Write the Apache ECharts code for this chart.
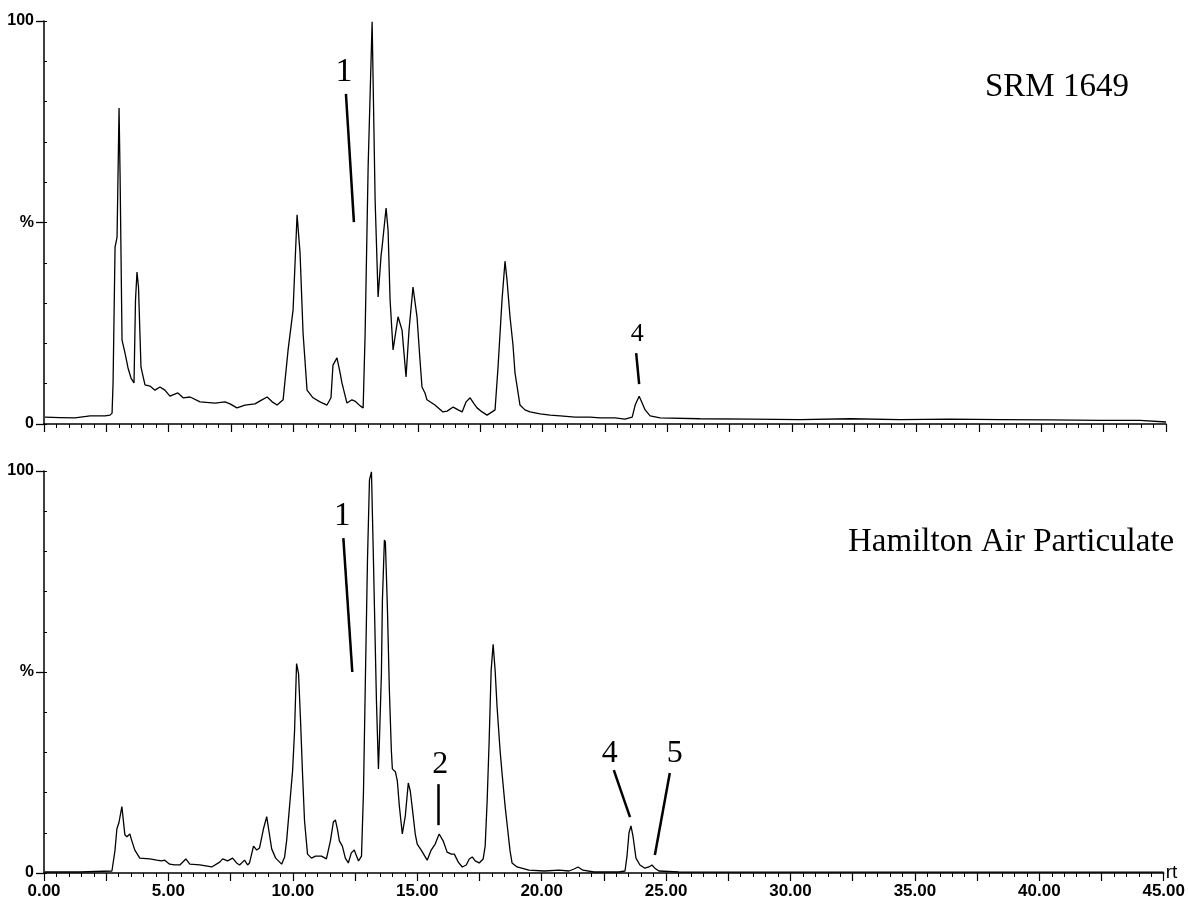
<!DOCTYPE html>
<html>
<head>
<meta charset="utf-8">
<script src="https://cdn.jsdelivr.net/npm/echarts@6/dist/echarts.min.js"></script>
<style>
  html, body { margin: 0; padding: 0; background: #fff; }
  #chart { width: 1188px; height: 900px; }
</style>
</head>
<body>
<div id="chart"></div>
<script>
// retention time (min) and relative abundance (%)
var srmTime = [0.04, 0.64, 1.24, 1.85, 2.45, 2.65, 2.73, 2.77, 2.85, 2.93, 2.97, 3.01, 3.05, 3.13, 3.25, 3.37, 3.49, 3.61,
  3.67, 3.73, 3.79, 3.89, 4.05, 4.25, 4.45, 4.65, 4.85, 5.05, 5.37, 5.58, 5.86, 6.26, 6.86, 7.26, 7.46, 7.74, 8.06, 8.46,
  8.74, 8.95, 9.15, 9.35, 9.59, 9.79, 9.99, 10.15, 10.27, 10.39, 10.55, 10.79, 11.07, 11.35, 11.51, 11.59, 11.75, 11.87,
  11.95, 12.15, 12.35, 12.47, 12.68, 12.8, 12.88, 13.0, 13.16, 13.28, 13.4, 13.52, 13.56, 13.72, 13.8, 13.88, 14.0, 14.2,
  14.36, 14.52, 14.64, 14.8, 14.96, 15.08, 15.16, 15.28, 15.36, 15.68, 16.0, 16.17, 16.41, 16.61, 16.77, 16.93, 17.09,
  17.25, 17.37, 17.57, 17.77, 17.97, 18.09, 18.21, 18.37, 18.49, 18.57, 18.69, 18.81, 18.89, 19.09, 19.29, 19.49, 19.9,
  20.3, 20.7, 21.3, 21.9, 22.3, 22.9, 23.3, 23.59, 23.71, 23.87, 23.99, 24.11, 24.31, 24.71, 26.31, 28.32, 30.32, 32.33,
  34.34, 36.34, 38.35, 40.35, 42.36, 43.96, 45.0];
var srmPct = [1.7, 1.6, 1.5, 2.0, 2.0, 2.2, 2.7, 10.2, 43.9, 46.4, 62.3, 78.4, 62.3, 20.8, 17.6, 13.9, 11.4, 10.2,
  30.8, 37.7, 34.0, 14.1, 9.7, 9.4, 8.4, 9.2, 8.4, 6.9, 7.7, 6.5, 6.7, 5.5, 5.2, 5.5, 5.0, 4.0, 4.7, 5.0,
  6.0, 6.7, 5.5, 4.7, 6.0, 18.4, 28.3, 51.9, 42.4, 22.6, 8.4, 6.5, 5.5, 4.7, 6.5, 14.6, 16.4, 12.9,
  10.2, 5.2, 6.0, 5.7, 4.5, 4.0, 22.6, 63.8, 99.8, 55.6, 31.5, 41.9, 43.9, 53.6, 48.1, 30.8, 18.4, 26.6,
  23.3, 11.7, 23.3, 34.0, 26.6, 15.9, 9.2, 7.7, 6.0, 4.7, 3.0, 3.2, 4.2, 3.5, 3.0, 5.5, 6.5,
  5.0, 4.0, 3.0, 2.2, 3.0, 3.5, 14.1, 30.8, 40.4, 35.7, 26.6, 19.6, 12.7, 4.7, 3.5, 3.0, 2.5,
  2.2, 2.0, 1.7, 1.7, 1.5, 1.5, 1.2, 1.7, 4.7, 6.9, 5.2, 3.5, 2.0, 1.5, 1.3, 1.2, 1.1, 1.3,
  1.1, 1.2, 1.1, 1.0, 0.9, 0.9, 0.5];

var hamTime = [0.04, 1.44, 2.73, 2.85, 2.93, 3.01, 3.13, 3.25, 3.33, 3.45, 3.53, 3.65, 3.85, 4.25, 4.53, 4.73, 4.85, 5.05,
  5.25, 5.46, 5.54, 5.7, 5.86, 6.26, 6.74, 7.06, 7.18, 7.38, 7.58, 7.74, 7.86, 8.06, 8.18, 8.26, 8.42, 8.55, 8.66, 8.82,
  8.95, 9.07, 9.15, 9.31, 9.55, 9.67, 9.75, 9.87, 9.99, 10.07, 10.15, 10.23, 10.31, 10.39, 10.47, 10.59, 10.75, 10.91,
  11.15, 11.35, 11.51, 11.63, 11.71, 11.79, 11.87, 11.99, 12.11, 12.23, 12.35, 12.47, 12.56, 12.64, 12.76, 12.84, 12.92,
  13.0, 13.08, 13.16, 13.24, 13.28, 13.36, 13.44, 13.48, 13.56, 13.6, 13.68, 13.72, 13.8, 13.88, 13.96, 14.0, 14.12,
  14.2, 14.28, 14.4, 14.52, 14.64, 14.72, 14.8, 14.92, 15.0, 15.16, 15.4, 15.56, 15.72, 15.88, 16.04, 16.2, 16.37,
  16.49, 16.65, 16.81, 16.97, 17.09, 17.21, 17.33, 17.49, 17.65, 17.73, 17.81, 17.89, 17.97, 18.05, 18.13, 18.21,
  18.33, 18.41, 18.53, 18.61, 18.73, 18.81, 19.01, 19.49, 20.1, 20.7, 21.1, 21.3, 21.46, 21.66, 22.1, 23.1, 23.35,
  23.43, 23.51, 23.59, 23.67, 23.79, 23.95, 24.15, 24.31, 24.43, 24.55, 24.71, 25.51, 30.33, 38.35, 45.0];
var hamPct = [0.25, 0.25, 0.5, 5.5, 11.0, 12.5, 16.5, 9.5, 9.0, 9.7, 8.0, 5.7, 3.7, 3.5, 3.2, 3.0, 3.2, 2.2,
  2.0, 2.0, 1.7, 3.5, 2.2, 2.0, 1.5, 2.7, 3.5, 3.0, 3.7, 2.5, 2.0, 3.2, 2.0, 2.5, 6.7, 5.7, 6.2, 11.0,
  14.0, 9.2, 6.0, 3.7, 2.2, 4.0, 8.0, 16.7, 25.4, 35.4, 52.1, 49.6, 37.9, 24.7, 13.0, 4.7, 3.7, 4.2,
  4.2, 3.5, 8.0, 12.7, 13.2, 11.0, 8.0, 6.7, 3.7, 2.5, 5.0, 5.7, 4.2, 3.0, 4.2, 20.4, 49.6,
  77.8, 97.8, 99.8, 77.8, 66.1, 42.9, 25.9, 32.9, 49.6, 67.8, 82.8, 82.3, 66.1, 45.4, 30.4, 25.9, 25.2,
  22.9, 16.7, 9.7, 14.2, 22.4, 20.4, 16.2, 9.7, 7.2, 5.7, 3.2, 5.7, 7.2, 9.7, 8.0, 5.2, 4.7,
  4.7, 2.7, 1.5, 2.0, 3.5, 4.0, 3.0, 2.5, 3.5, 6.7, 18.0, 32.9, 50.4, 56.9, 50.4, 41.1,
  30.4, 24.7, 16.7, 12.2, 5.5, 2.5, 1.5, 0.7, 0.5, 0.7, 0.5, 1.0, 1.5, 0.7, 0.25, 0.25, 0.5,
  4.2, 10.0, 11.7, 9.2, 3.7, 2.0, 1.2, 1.5, 2.0, 1.2, 0.5, 0.25, 0.2, 0.2, 0.2];

// peak labels: text, label point [rt, %], leader line from / to [rt, %]
var srmPeaks = [
  { text: '1', at: [12.03, 87.3], from: [12.11, 81.9], to: [12.43, 50.1], size: 34 },
  { text: '4', at: [23.79, 22.3], from: [23.75, 17.6], to: [23.87, 9.9], size: 26 }
];
var hamPeaks = [
  { text: '1', at: [11.99, 88.8], from: [12.03, 83.3], to: [12.39, 50.0], size: 33 },
  { text: '2', at: [15.92, 26.9], from: [15.84, 22.1], to: [15.84, 11.9], size: 32 },
  { text: '4', at: [22.74, 29.6], from: [22.9, 25.6], to: [23.55, 13.9], size: 32 },
  { text: '5', at: [25.35, 29.6], from: [25.15, 24.9], to: [24.55, 4.5], size: 32 }
];

function pairs(xs, ys) {
  var out = [];
  for (var i = 0; i < xs.length; i++) out.push([xs[i], ys[i]]);
  return out;
}

function xAxisFor(gridIndex, showLabels) {
  return {
    type: 'value',
    gridIndex: gridIndex,
    min: 0,
    max: 45,
    interval: 2.5,
    name: showLabels ? 'rt' : '',
    nameLocation: 'end',
    nameGap: 2,
    nameTextStyle: { color: '#000', fontSize: 19, fontFamily: 'Liberation Sans', padding: [0, 0, 6, 0] },
    axisLine: { onZero: false, lineStyle: { color: '#000', width: 1.5 } },
    axisTick: { show: true, length: 8, lineStyle: { color: '#000', width: 1.2 } },
    minorTick: { show: true, splitNumber: 5, length: 4, lineStyle: { color: '#000', width: 1 } },
    splitLine: { show: false },
    axisLabel: {
      show: showLabels,
      margin: 10,
      color: '#000',
      fontSize: 17,
      fontWeight: 'bold',
      fontFamily: 'Liberation Sans',
      formatter: function (v) { return v % 5 === 0 ? v.toFixed(2) : ''; }
    }
  };
}

function yAxesFor(gridIndex) {
  return [{
    type: 'value',
    gridIndex: gridIndex,
    min: 0,
    max: 100,
    interval: 50,
    axisLine: { show: true, lineStyle: { color: '#000', width: 1.5 } },
    axisTick: { show: true, length: 8, lineStyle: { color: '#000', width: 1.3 } },
    splitLine: { show: false },
    axisLabel: {
      margin: 10,
      color: '#000',
      fontSize: 16,
      fontWeight: 'bold',
      fontFamily: 'Liberation Sans',
      formatter: function (v) { return v === 50 ? '%' : String(v); }
    }
  }, {
    // small inward ticks every 10 %
    type: 'value',
    gridIndex: gridIndex,
    position: 'left',
    min: 0,
    max: 100,
    interval: 10,
    axisLine: { show: false },
    axisTick: { show: true, inside: true, length: 3, lineStyle: { color: '#000', width: 1 } },
    splitLine: { show: false },
    axisLabel: { show: false }
  }];
}

function traceSeries(idx, data) {
  return {
    type: 'line',
    xAxisIndex: idx,
    yAxisIndex: idx * 2,
    data: data,
    showSymbol: false,
    symbol: 'none',
    smooth: false,
    lineStyle: { color: '#000', width: 1.3 },
    silent: true
  };
}

function peakSeries(idx, peaks) {
  return {
    type: 'scatter',
    xAxisIndex: idx,
    yAxisIndex: idx * 2,
    symbolSize: 0,
    itemStyle: { color: '#000', opacity: 1 },
    silent: true,
    data: peaks.map(function (p) {
      return {
        value: [p.at[0], p.at[1]],
        label: {
          show: true,
          position: 'inside',
          formatter: p.text,
          color: '#000',
          opacity: 1,
          textBorderWidth: 0,
          fontSize: p.size,
          fontFamily: 'Liberation Serif'
        }
      };
    }),
    markLine: {
      silent: true,
      symbol: ['none', 'none'],
      label: { show: false },
      lineStyle: { color: '#000', width: 2.5, type: 'solid', opacity: 1 },
      data: peaks.map(function (p) {
        return [{ coord: p.from }, { coord: p.to }];
      })
    }
  };
}

var chart = echarts.init(document.getElementById('chart'), null, { renderer: 'canvas' });
var yTop = yAxesFor(0);
var yBottom = yAxesFor(1);

chart.setOption({
  animation: false,
  backgroundColor: '#fff',
  title: [{
    text: 'SRM 1649',
    left: 980,
    top: 66,
    textStyle: { color: '#000', fontSize: 33, fontWeight: 'normal', fontFamily: 'Liberation Serif' }
  }, {
    text: 'Hamilton Air Particulate',
    left: 843,
    top: 521,
    textStyle: { color: '#000', fontSize: 33, fontWeight: 'normal', fontFamily: 'Liberation Serif' }
  }],
  grid: [
    { left: 44, top: 21, width: 1122, height: 403 },
    { left: 44, top: 471, width: 1122, height: 402 }
  ],
  xAxis: [xAxisFor(0, false), xAxisFor(1, true)],
  yAxis: [yTop[0], yTop[1], yBottom[0], yBottom[1]],
  series: [
    traceSeries(0, pairs(srmTime, srmPct)),
    traceSeries(1, pairs(hamTime, hamPct)),
    peakSeries(0, srmPeaks),
    peakSeries(1, hamPeaks)
  ]
});
</script>
</body>
</html>
